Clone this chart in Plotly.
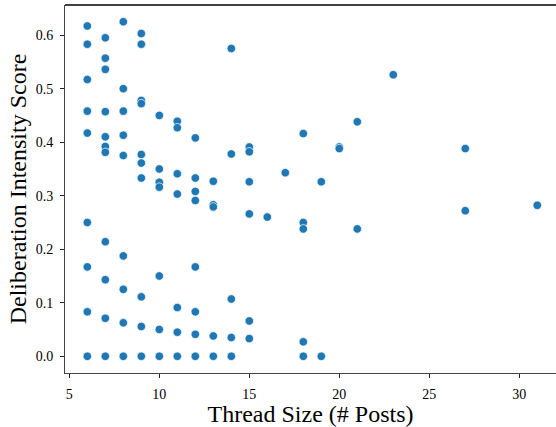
import plotly.graph_objects as go

# Thread size (# posts) and deliberation intensity score for each thread
thread_size = (
    [6] * 9 + [7] * 11 + [8] * 9 + [9] * 10 + [10] * 7 + [11] * 7 + [12] * 8
    + [13] * 5 + [14] * 5 + [15] * 6 + [16] + [17] + [18] * 5 + [19] * 2
    + [20] * 2 + [21] * 2 + [23] + [27] * 2 + [31]
)
score = [
    # 6
    0.617, 0.583, 0.517, 0.458, 0.417, 0.25, 0.167, 0.083, 0.0,
    # 7
    0.595, 0.557, 0.536, 0.457, 0.410, 0.392, 0.381, 0.214, 0.143, 0.071, 0.0,
    # 8
    0.625, 0.5, 0.458, 0.413, 0.375, 0.1875, 0.125, 0.0625, 0.0,
    # 9
    0.603, 0.583, 0.478, 0.472, 0.377, 0.361, 0.333, 0.111, 0.0556, 0.0,
    # 10
    0.45, 0.35, 0.325, 0.316, 0.15, 0.05, 0.0,
    # 11
    0.439, 0.427, 0.341, 0.303, 0.091, 0.045, 0.0,
    # 12
    0.408, 0.333, 0.308, 0.291, 0.167, 0.083, 0.041, 0.0,
    # 13
    0.327, 0.283, 0.279, 0.038, 0.0,
    # 14
    0.575, 0.378, 0.107, 0.035, 0.0,
    # 15
    0.391, 0.382, 0.326, 0.266, 0.066, 0.033,
    # 16
    0.260,
    # 17
    0.343,
    # 18
    0.416, 0.25, 0.238, 0.027, 0.0,
    # 19
    0.326, 0.0,
    # 20
    0.391, 0.388,
    # 21
    0.438, 0.238,
    # 23
    0.526,
    # 27
    0.388, 0.272,
    # 31
    0.282,
]

x_ticks = [5, 10, 15, 20, 25, 30]
y_ticks = [0.0, 0.1, 0.2, 0.3, 0.4, 0.5, 0.6]

FONT = "Liberation Serif"

fig = go.Figure(
    go.Scatter(
        x=thread_size,
        y=score,
        mode="markers",
        marker=dict(color="#1f77b4", size=8.5, line=dict(color="white", width=0.7)),
        hoverinfo="x+y",
    )
)

fig.update_layout(
    width=556,
    height=427,
    margin=dict(l=64.5, r=0, t=4.5, b=53.5),
    paper_bgcolor="white",
    plot_bgcolor="white",
    showlegend=False,
    font=dict(family=FONT, color="black"),
    xaxis=dict(
        range=[4.76, 32.04],
        tickvals=x_ticks,
        ticktext=[str(v) for v in x_ticks],
        showgrid=False,
        zeroline=False,
        showline=True,
        linecolor="#444444",
        linewidth=1,
        ticks="outside",
        ticklen=4,
        tickcolor="#222222",
        ticklabelstandoff=4,
        tickfont=dict(size=14, family=FONT),
        title=dict(text="Thread Size (# Posts)", font=dict(size=24, family=FONT), standoff=4),
    ),
    yaxis=dict(
        range=[-0.03125, 0.65625],
        tickvals=y_ticks,
        ticktext=[f"{v:.1f}" for v in y_ticks],
        showgrid=False,
        zeroline=False,
        showline=True,
        linecolor="#444444",
        linewidth=1,
        ticks="outside",
        ticklen=4,
        tickcolor="#222222",
        ticklabelstandoff=4,
        tickfont=dict(size=14, family=FONT),
        title=dict(text="Deliberation Intensity Score", font=dict(size=24, family=FONT), standoff=2),
    ),
    shapes=[
        dict(type="line", xref="paper", yref="paper", x0=0, x1=1, y0=1, y1=1,
             line=dict(color="black", width=1.5))
    ],
)

fig.write_html("out.html")
